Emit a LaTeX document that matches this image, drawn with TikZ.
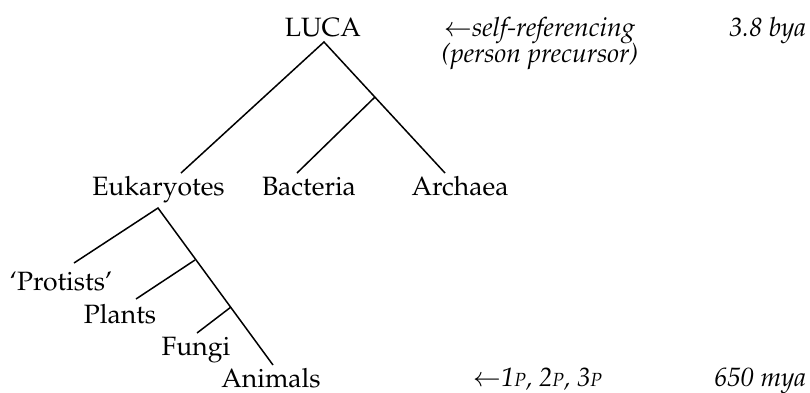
\documentclass[tikz,border=0pt]{standalone}
\usepackage[T1]{fontenc}
\usepackage{mathpazo}
\usepackage{tikz}
\usetikzlibrary{calc}
\newcommand{\smallp}{{\fontsize{9.5}{9.5}\selectfont P}}
\tikzset{lbl/.style={inner sep=0pt,anchor=base,font=\fontsize{13.25}{13}\selectfont}}

\begin{document}
\begin{tikzpicture}[x=0.5pt,y=-0.5pt,line width=0.75pt]
\useasboundingbox (0,0) rectangle (810,392);
% tree points
\coordinate (top) at (324,42);
\coordinate (split) at (375,97);
\coordinate (eukend) at (181,173);
\coordinate (bactend) at (297,173);
\coordinate (archend) at (445,173);
\coordinate (euktop) at (158,208);
\coordinate (protend) at (74,263);
\coordinate (plantsplit) at (195,260);
\coordinate (plantend) at (136,299);
\coordinate (fungisplit) at (231,307);
\coordinate (fungiend) at (197,333);
\coordinate (animend) at (273,365);
% labels
\node[lbl] (luca) at (323,36) {LUCA};
\node[lbl] (euk) at (158.5,195) {Eukaryotes};
\node[lbl] (bact) at (309,195) {Bacteria};
\node[lbl] (arch) at (460,195) {Archaea};
\node[lbl] (prot) at (61,290) {`Protists'};
\node[lbl] (plants) at (120,323) {Plants};
\node[lbl] (fungi) at (196,355) {Fungi};
\node[lbl] (anim) at (271,387) {Animals};
\node[lbl,anchor=base west] (selfref) at (443,36) {$\leftarrow$\textit{self-referencing}};
\node[lbl] (precur) at (540,62) {\textit{(person precursor)}};
\node[lbl,anchor=base east] (bya) at (807,36) {\textit{3.8 bya}};
\node[lbl,anchor=base west] (persons) at (472,386) {$\leftarrow$\textit{1\smallp, 2\smallp, 3\smallp}};
\node[lbl,anchor=base east] (mya) at (807,386) {\textit{650 mya}};
% branches
\draw (eukend) -- (top) -- (archend);
\draw (split) -- (bactend);
\draw (protend) -- (euktop) -- (animend);
\draw (plantsplit) -- (plantend);
\draw (fungisplit) -- (fungiend);
\end{tikzpicture}
\end{document}
